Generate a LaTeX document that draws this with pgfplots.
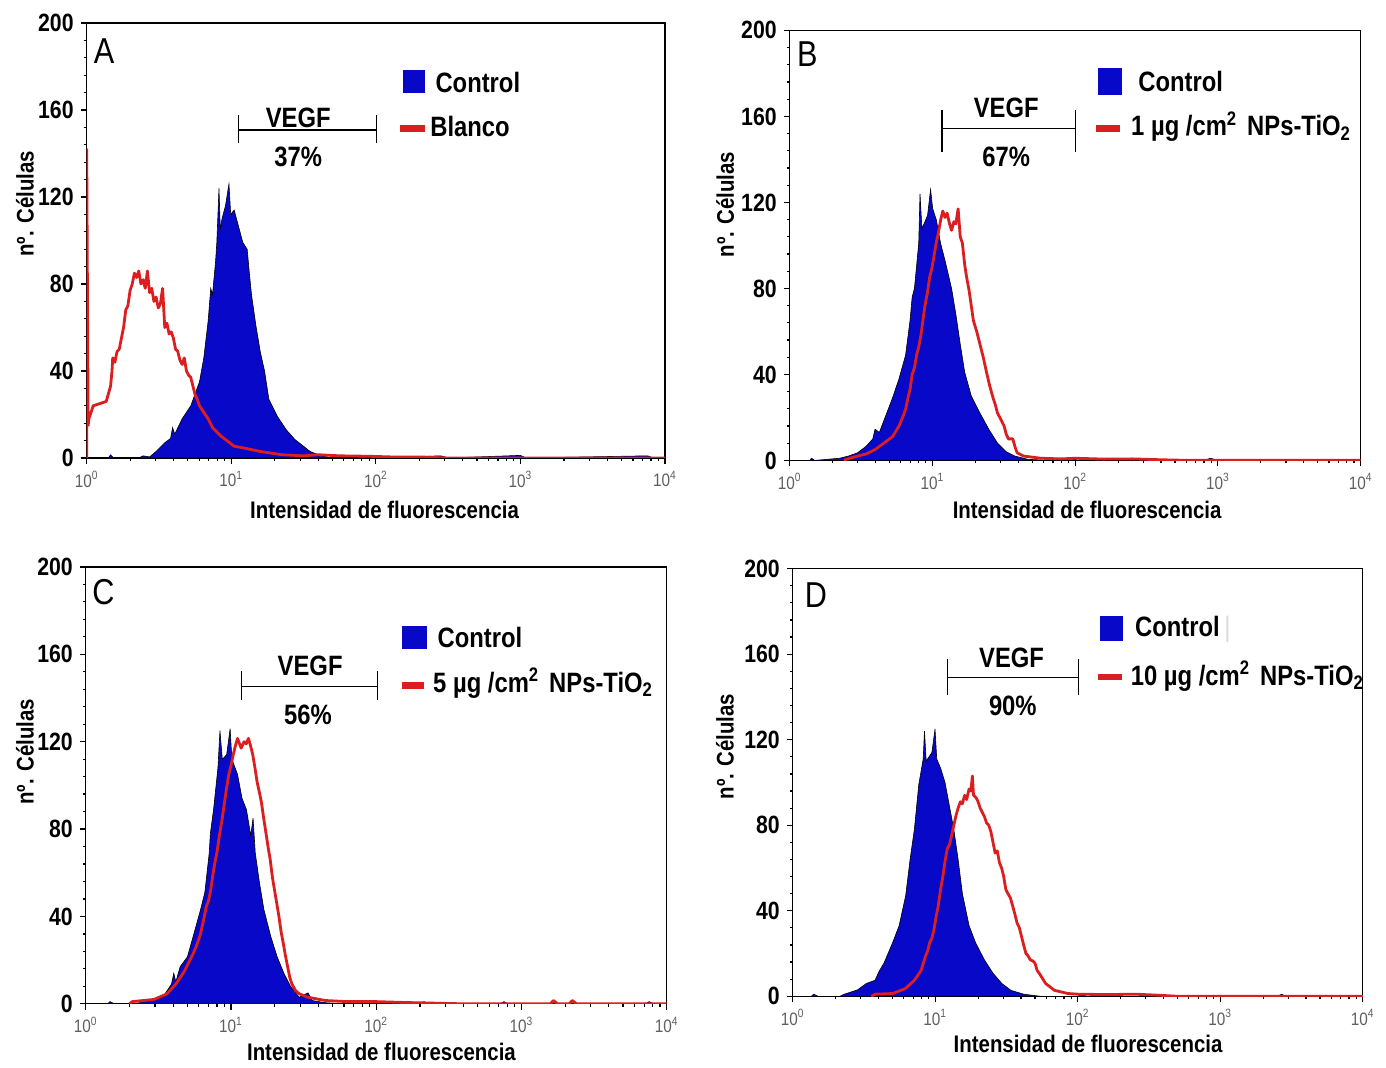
\documentclass[border=0pt]{standalone}
\usepackage{fontspec}
\setmainfont{Liberation Sans}[FakeStretch=0.85]
\usepackage{pgfplots}
\pgfplotsset{compat=1.18}
\definecolor{ctrl}{RGB}{8,8,200}
\definecolor{trt}{RGB}{220,30,30}
\definecolor{ticktxt}{RGB}{95,95,95}
\newcommand\lgfont{\fontsize{14}{16}\selectfont\bfseries}
\pgfplotsset{
 facs/.style={
  scale only axis, xmin=0, xmax=4, ymin=0, ymax=200,
  axis line style={line width=0.6pt},
  xtick={0,1,2,3,4},
  xticklabels={10\textsuperscript{0},10\textsuperscript{1},10\textsuperscript{2},10\textsuperscript{3},10\textsuperscript{4}},
  minor xtick={0.301,0.477,0.602,0.699,0.778,0.845,0.903,0.954,
               1.301,1.477,1.602,1.699,1.778,1.845,1.903,1.954,
               2.301,2.477,2.602,2.699,2.778,2.845,2.903,2.954,
               3.301,3.477,3.602,3.699,3.778,3.845,3.903,3.954},
  ytick={0,40,...,200}, minor y tick num=4,
  tick align=outside, tick pos=left,
  major tick length=3pt, minor tick length=1.5pt,
  every tick/.style={black, line width=0.6pt},
  xticklabel style={font=\fontsize{9}{9}\selectfont, text=ticktxt},
  yticklabel style={font=\fontsize{12.5}{12.5}\selectfont\bfseries},
  /pgf/number format/assume math mode=true,
  xlabel={Intensidad de fluorescencia}, ylabel={nº. Células},
  label style={font=\fontsize{12}{12}\selectfont\bfseries},
 },
 blue hist/.style={draw=black, line width=0.3pt, fill=ctrl},
 red hist/.style={draw=trt, line width=1.4pt, line join=round},
}
\begin{document}
\begin{tikzpicture}
\useasboundingbox (0,0) rectangle (693pt,533.5pt);
% ---------------- A ----------------
\begin{axis}[facs, at={(43.35pt,304.5pt)}, anchor=south west, width=289.15pt, height=217.5pt,
  ylabel style={at={(axis description cs:-0.107,0.584)}, anchor=center},
  xlabel style={at={(axis description cs:0.515,-0.12)}, anchor=center}]
\addplot[blue hist] coordinates {(0.15,0)(0.165,1.5)(0.186,0)(0.36,0)(0.39,1)(0.435,0.5)(0.48,3)(0.54,7)(0.58,9)(0.594,14)(0.609,11)(0.66,18)(0.72,24)(0.78,35)(0.81,46)(0.84,63)(0.858,78)(0.87,75)(0.891,90)(0.90,99)(0.915,124)(0.924,105)(0.936,110)(0.96,116)(0.984,126)(0.996,112)(1.02,114)(1.044,108)(1.08,99)(1.11,96)(1.125,85)(1.14,75)(1.17,61)(1.20,49)(1.23,40)(1.26,27)(1.32,19)(1.38,13)(1.44,8.5)(1.50,5.4)(1.545,3)(1.62,1)(1.68,0.3)(1.8,0)(1.95,1)(2.0,0)(2.45,1)(2.5,0)(3.0,1.2)(3.04,0)(3.88,1)(3.92,0)(4,0)} \closedcycle;
\addplot[red hist] coordinates {(0,0)(0,142)(0.01,15)(0.015,18)(0.045,24)(0.09,25)(0.135,26)(0.165,33)(0.175,40)(0.18,46)(0.195,44)(0.21,49)(0.225,50)(0.24,55)(0.255,60)(0.27,68)(0.285,70)(0.30,77)(0.315,80)(0.33,85)(0.345,83)(0.36,86)(0.375,80)(0.39,82)(0.405,78)(0.42,86)(0.435,76)(0.45,78)(0.465,72)(0.48,74)(0.495,69)(0.51,71)(0.525,78)(0.54,60)(0.555,62)(0.57,57)(0.585,58)(0.60,55)(0.615,50)(0.63,49)(0.645,45)(0.66,43)(0.675,46)(0.69,40)(0.705,38)(0.72,37)(0.735,33)(0.75,29)(0.765,27)(0.78,24)(0.81,21)(0.84,18)(0.87,14)(0.90,12)(0.93,10)(0.96,8.5)(1.02,5.4)(1.08,4.7)(1.20,3)(1.35,1.5)(1.5,1)(1.6,1.5)(1.75,1)(1.95,0.8)(2.1,0.5)(2.3,0.5)(2.5,0)(4,0)};
\node[font=\fontsize{18}{18}\selectfont] at (axis cs:0.12,187) {A};
\draw[line width=0.6pt] (axis cs:1.048,150.8) -- (axis cs:2.006,150.8);
\draw[line width=0.6pt] (axis cs:1.048,144.8) -- (axis cs:1.048,157.7);
\draw[line width=0.6pt] (axis cs:2.006,144.8) -- (axis cs:2.006,157.7);
\node[font=\lgfont] at (axis cs:1.463,156.5) {VEGF};
\node[font=\lgfont] at (axis cs:1.463,138.4) {37\%};
\fill[ctrl] (axis cs:2.19,167.7) rectangle (axis cs:2.34,178.4);
\node[font=\lgfont, anchor=west, inner sep=0pt] at (axis cs:2.41,172.8) {Control};
\draw[trt, line width=3.2pt] (axis cs:2.167,151.5) -- (axis cs:2.34,151.5);
\node[font=\lgfont, anchor=west, inner sep=0pt] at (axis cs:2.374,152.4) {Blanco};
\end{axis}
% ---------------- B ----------------
\begin{axis}[facs, at={(394.85pt,303.3pt)}, anchor=south west, width=285.45pt, height=215pt,
  ylabel style={at={(axis description cs:-0.113,0.595)}, anchor=center},
  xlabel style={at={(axis description cs:0.521,-0.116)}, anchor=center}]
\addplot[blue hist] coordinates {(0.14,0)(0.153,1)(0.175,0)(0.35,1)(0.41,2)(0.475,3.5)(0.536,6.6)(0.582,10)(0.598,14.5)(0.628,13)(0.674,21)(0.72,29)(0.766,38)(0.812,49)(0.843,65)(0.858,76)(0.874,80)(0.904,101)(0.913,124)(0.926,108)(0.941,110)(0.966,114)(0.987,126)(1.002,117)(1.027,112)(1.057,101)(1.088,93)(1.134,80)(1.164,68)(1.195,54)(1.226,41)(1.272,30)(1.333,22)(1.395,14.5)(1.456,8)(1.517,4)(1.578,2)(1.67,0.5)(1.82,0)(1.98,1)(2.02,0)(2.9,0)(2.95,1)(3.0,0)(4,0)} \closedcycle;
\addplot[red hist] coordinates {(0.38,0)(0.42,1)(0.475,2)(0.536,3)(0.598,5)(0.659,8)(0.72,11)(0.766,16)(0.797,21)(0.813,24)(0.828,29)(0.843,33)(0.858,40)(0.874,43)(0.889,49)(0.905,53)(0.92,58.5)(0.935,66)(0.95,73)(0.965,78)(0.98,85)(0.995,89)(1.011,95)(1.026,101)(1.042,106)(1.058,112)(1.073,116)(1.088,113)(1.103,115)(1.12,110)(1.134,107)(1.15,111)(1.164,110)(1.18,117)(1.195,104)(1.21,101)(1.226,91)(1.24,85)(1.257,79)(1.272,72)(1.287,65)(1.31,60)(1.333,54)(1.356,48)(1.379,41)(1.40,35)(1.425,29)(1.44,26)(1.456,22)(1.48,19)(1.502,16)(1.518,12)(1.533,10)(1.563,10)(1.58,6)(1.594,3.5)(1.64,2)(1.76,1)(1.9,0.7)(2.0,1)(2.2,0.6)(2.4,0.7)(2.6,0.3)(2.8,0)(4,0)};
\node[font=\fontsize{18}{18}\selectfont] at (axis cs:0.123,189) {B};
\draw[line width=0.6pt] (axis cs:1.067,154.4) -- (axis cs:2.0,154.4);
\draw[line width=0.6pt] (axis cs:1.067,143.4) -- (axis cs:1.067,163);
\draw[line width=0.6pt] (axis cs:2.0,143.4) -- (axis cs:2.0,163);
\node[font=\lgfont] at (axis cs:1.517,163.8) {VEGF};
\node[font=\lgfont] at (axis cs:1.517,141) {67\%};
\fill[ctrl] (axis cs:2.16,170) rectangle (axis cs:2.33,182.7);
\node[font=\lgfont, anchor=west, inner sep=0pt] at (axis cs:2.44,176.4) {Control};
\draw[trt, line width=3.2pt] (axis cs:2.146,154.4) -- (axis cs:2.314,154.4);
\node[font=\lgfont, anchor=west, inner sep=0pt] at (axis cs:2.39,155.2) {1 µg /cm\textsuperscript{2}\hspace{5pt}NPs-TiO\textsubscript{2}};
\end{axis}
% ---------------- C ----------------
\begin{axis}[facs, at={(42.9pt,31.6pt)}, anchor=south west, width=290.4pt, height=218.45pt,
  ylabel style={at={(axis description cs:-0.105,0.577)}, anchor=center},
  xlabel style={at={(axis description cs:0.509,-0.111)}, anchor=center}]
\addplot[blue hist] coordinates {(0.15,0)(0.167,1)(0.197,0)(0.33,0)(0.41,1)(0.53,3)(0.59,9)(0.606,14)(0.62,10)(0.65,17)(0.70,21.5)(0.74,31)(0.79,43)(0.82,51)(0.85,69)(0.858,78)(0.88,89)(0.91,108)(0.924,125)(0.94,112)(0.97,114)(0.994,126)(1.006,112)(1.045,105)(1.076,94)(1.106,89)(1.136,77)(1.152,85)(1.167,69)(1.197,55)(1.227,43)(1.273,31)(1.318,21.5)(1.364,14)(1.41,8)(1.47,3)(1.53,5)(1.56,1.5)(1.65,0.5)(1.77,0)(2.3,0)(2.33,1)(2.36,0)(2.85,0)(2.88,1)(2.91,0)(3.85,0)(3.88,1)(3.91,0)(4,0)} \closedcycle;
\addplot[red hist] coordinates {(0.3,0)(0.32,1)(0.47,2)(0.56,4.6)(0.62,9)(0.68,15)(0.74,23)(0.765,27)(0.79,32)(0.81,38)(0.83,44.6)(0.845,47)(0.86,52)(0.875,59)(0.89,65)(0.905,70)(0.92,77)(0.94,85)(0.955,92)(0.97,99)(0.985,105)(1.0,109)(1.015,114)(1.03,118)(1.045,121.5)(1.07,117)(1.09,120)(1.105,119)(1.12,121.5)(1.135,118)(1.15,114)(1.165,108)(1.18,101.5)(1.195,97)(1.21,92)(1.225,85)(1.24,78.5)(1.255,72)(1.27,66)(1.285,58)(1.30,52)(1.315,46)(1.33,40)(1.345,33)(1.36,27.7)(1.375,22)(1.39,17)(1.405,12)(1.42,9)(1.445,6)(1.47,4.6)(1.53,3)(1.65,1.5)(1.8,1)(2.0,1)(2.2,0.6)(2.4,0.3)(2.6,0)(3.2,0)(3.22,1.5)(3.25,0)(3.33,0)(3.35,1.5)(3.38,0)(4,0)};
\node[font=\fontsize{18}{18}\selectfont] at (axis cs:0.121,188.5) {C};
\draw[line width=0.6pt] (axis cs:1.07,145.4) -- (axis cs:2.01,145.4);
\draw[line width=0.6pt] (axis cs:1.07,139.2) -- (axis cs:1.07,152.3);
\draw[line width=0.6pt] (axis cs:2.01,139.2) -- (axis cs:2.01,152.3);
\node[font=\lgfont] at (axis cs:1.545,154.6) {VEGF};
\node[font=\lgfont] at (axis cs:1.53,132.3) {56\%};
\fill[ctrl] (axis cs:2.18,162.3) rectangle (axis cs:2.35,173);
\node[font=\lgfont, anchor=west, inner sep=0pt] at (axis cs:2.42,167.7) {Control};
\draw[trt, line width=3.2pt] (axis cs:2.18,145.8) -- (axis cs:2.33,145.8);
\node[font=\lgfont, anchor=west, inner sep=0pt] at (axis cs:2.39,146.9) {5 µg /cm\textsuperscript{2}\hspace{5pt}NPs-TiO\textsubscript{2}};
\end{axis}
% ---------------- D ----------------
\begin{axis}[facs, at={(396.4pt,35.35pt)}, anchor=south west, width=285pt, height=213.85pt,
  ylabel style={at={(axis description cs:-0.119,0.584)}, anchor=center},
  xlabel style={at={(axis description cs:0.518,-0.112)}, anchor=center}]
\addplot[blue hist] coordinates {(0.13,0)(0.147,1)(0.178,0)(0.33,0)(0.362,1)(0.454,3)(0.516,6)(0.577,7.5)(0.608,12)(0.639,15.4)(0.70,25)(0.746,33)(0.792,47)(0.823,64)(0.853,78)(0.884,99)(0.915,111)(0.924,124)(0.936,110)(0.976,114)(0.998,125)(1.01,111)(1.038,106.5)(1.068,100)(1.099,89)(1.13,78)(1.16,64)(1.19,48)(1.237,33)(1.283,25)(1.345,17)(1.406,10.7)(1.467,6)(1.53,2.8)(1.62,1)(1.74,0)(2.0,0)(2.03,1)(2.06,0)(3.4,0)(3.43,1)(3.46,0)(4,0)} \closedcycle;
\addplot[red hist] coordinates {(0.55,0)(0.58,1)(0.70,1.3)(0.79,3.6)(0.853,7.5)(0.90,12)(0.93,18.5)(0.945,21)(0.96,25)(0.975,27)(0.99,31)(1.005,37)(1.02,42)(1.037,50)(1.053,56)(1.068,63)(1.084,69)(1.10,71)(1.114,75)(1.13,80)(1.145,84.5)(1.16,88)(1.176,91)(1.19,90)(1.206,94)(1.22,92)(1.237,97)(1.25,96)(1.26,103)(1.268,94)(1.285,93)(1.30,91)(1.315,88)(1.33,86)(1.345,84)(1.36,81)(1.375,80)(1.39,77)(1.405,72)(1.42,67)(1.435,68)(1.45,62.5)(1.465,60)(1.48,56)(1.495,50)(1.51,48)(1.527,46)(1.544,42)(1.56,38)(1.575,34)(1.59,32)(1.605,28)(1.62,24)(1.636,20)(1.65,19)(1.667,17)(1.685,16.5)(1.70,15.4)(1.715,12)(1.73,10.7)(1.774,6)(1.836,2.8)(1.93,1.3)(2.0,1)(2.2,0.8)(2.4,1)(2.57,0.5)(2.7,0)(4,0)};
\node[font=\fontsize{18}{18}\selectfont] at (axis cs:0.163,187.4) {D};
\draw[line width=0.6pt] (axis cs:1.084,149) -- (axis cs:2.005,149);
\draw[line width=0.6pt] (axis cs:1.084,140.8) -- (axis cs:1.084,157.6);
\draw[line width=0.6pt] (axis cs:2.005,140.8) -- (axis cs:2.005,157.6);
\node[font=\lgfont] at (axis cs:1.535,158.4) {VEGF};
\node[font=\lgfont] at (axis cs:1.544,135.6) {90\%};
\fill[ctrl] (axis cs:2.158,166.2) rectangle (axis cs:2.32,178);
\node[font=\lgfont, anchor=west, inner sep=0pt] at (axis cs:2.40,171.7) {Control\,\textcolor{gray!30}{\mdseries|}};
\draw[trt, line width=3.2pt] (axis cs:2.143,149.4) -- (axis cs:2.31,149.4);
\node[font=\lgfont, anchor=west, inner sep=0pt] at (axis cs:2.37,149.7) {10 µg /cm\textsuperscript{2}\hspace{5pt}NPs-TiO\textsubscript{2}};
\end{axis}
\end{tikzpicture}
\end{document}
